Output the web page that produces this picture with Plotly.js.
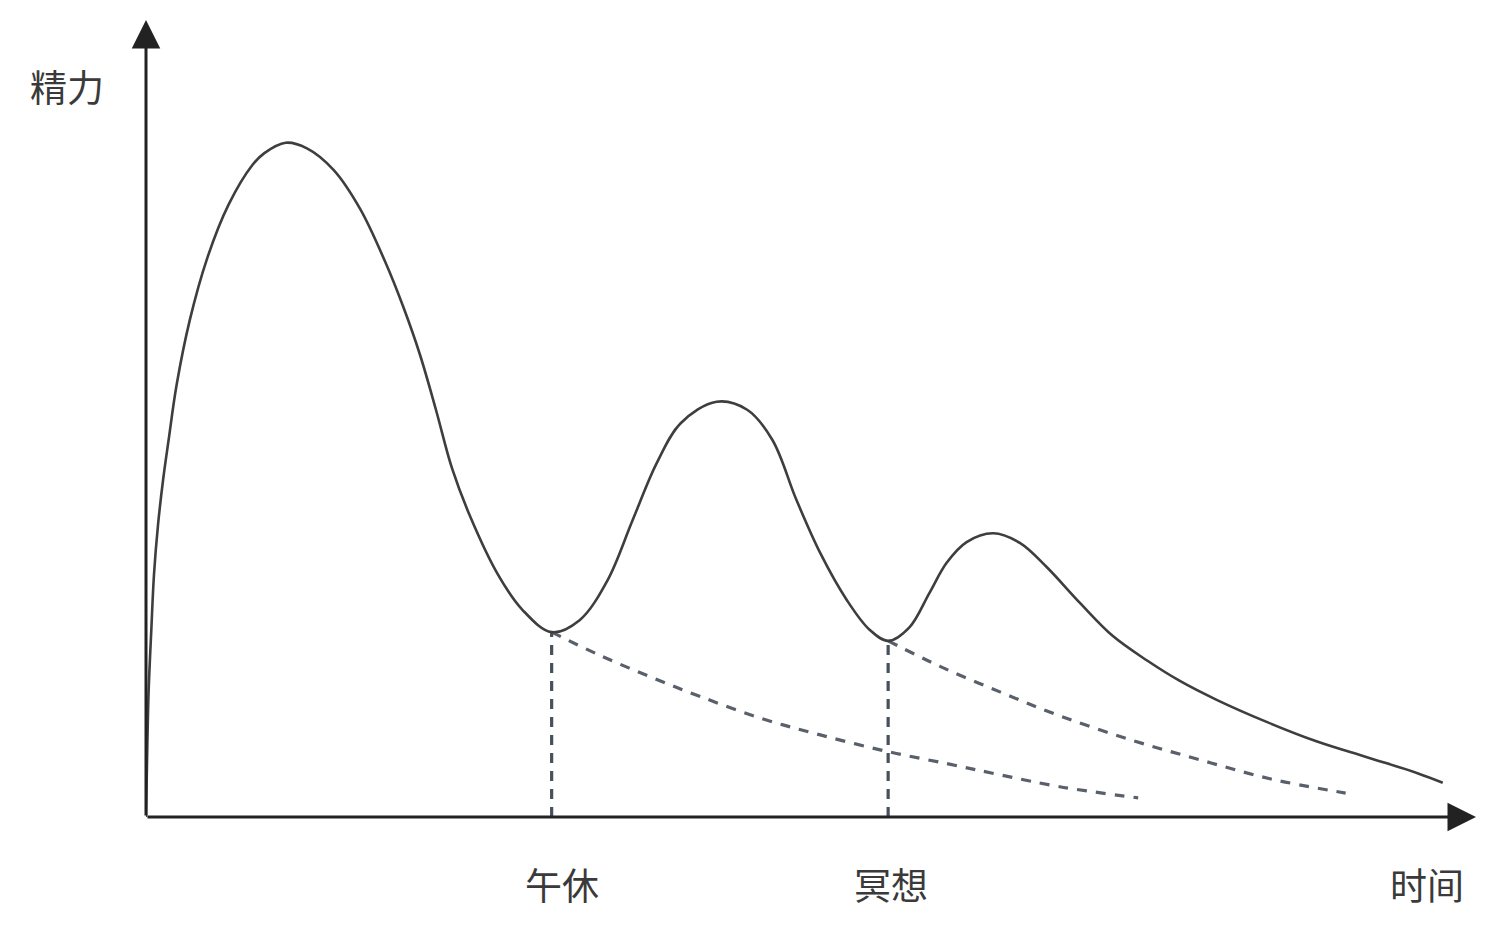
<!DOCTYPE html>
<html>
<head>
<meta charset="utf-8">
<script src="https://cdn.plot.ly/plotly-3.0.1.min.js"></script>
<style>html,body{margin:0;padding:0;background:#fff;}#chart{width:1492px;height:928px;}</style>
</head>
<body>
<div id="chart"></div>
<script>
// Energy curve (时间 vs 精力), arbitrary units 0-100
const energyTime = [0, 0.1, 0.2, 0.4, 0.6, 0.9, 1.3, 1.7, 2.3, 3.3, 4.6, 6.2, 8.0, 8.9, 10.5, 12.1, 14.1, 16.1, 18.0, 19.3, 20.6, 21.8, 23.0, 24.4, 26.4, 28.3, 30.5, 32.6, 34.7, 36.6, 38.4, 40.2, 42.9, 45.2, 47.1, 48.9, 50.7, 52.7, 54.4, 55.8, 57.4, 58.9, 60.2, 61.7, 63.7, 65.7, 67.7, 70.2, 72.7, 75.3, 77.7, 80.5, 84.3, 88.0, 91.8, 95.6, 97.5];
const energyLevel = [0, 9.0, 15.9, 23.5, 30.4, 36.6, 42.5, 47.3, 54.2, 62.4, 70.1, 76.8, 81.8, 83.3, 84.6, 83.9, 81.2, 76.3, 69.6, 64.2, 58.0, 51.1, 43.8, 37.6, 30.6, 26.0, 23.2, 24.7, 29.7, 37.3, 44.4, 49.4, 52.1, 51.1, 47.3, 39.8, 33.1, 27.2, 23.5, 22.1, 23.8, 28.1, 31.9, 34.5, 35.6, 34.4, 31.4, 26.9, 22.7, 19.6, 17.1, 14.7, 11.9, 9.5, 7.5, 5.5, 4.3];

// Decay without the 午休 break
const decay1Time = [30.5, 34.1, 37.9, 41.7, 46.2, 50.7, 55.8, 60.5, 64.2, 68.7, 74.6];
const decay1Level = [23.2, 20.3, 17.6, 15.1, 12.4, 10.3, 8.2, 6.6, 5.3, 3.8, 2.4];

// Decay without the 冥想 break
const decay2Time = [55.8, 59.7, 64.2, 68.7, 74.0, 79.2, 84.5, 90.2];
const decay2Level = [22.1, 18.9, 15.7, 12.7, 9.7, 7.2, 4.8, 3.0];

// Break markers
const breakTimes = [30.5, 55.8];
const breakLevels = [23.2, 22.1];
const breakLabels = ['午休', '冥想'];
const breakLabelPos = [31.3, 56.0];

const axisLabelX = '时间';
const axisLabelY = '精力';

const font = '"Noto Sans CJK SC", "Noto Sans", sans-serif';
const dashColor = '#59606b';

const traces = [
  {x: decay1Time, y: decay1Level, mode: 'lines', line: {color: dashColor, width: 3.2, dash: '10px,9px', shape: 'spline', smoothing: 1.0}, hoverinfo: 'skip'},
  {x: decay2Time, y: decay2Level, mode: 'lines', line: {color: dashColor, width: 3.2, dash: '10px,9px', shape: 'spline', smoothing: 1.0}, hoverinfo: 'skip'}
];
breakTimes.forEach((t, i) => {
  traces.push({x: [t, t], y: [0, breakLevels[i]], mode: 'lines', line: {color: '#4a505a', width: 3.2, dash: '10px,8px'}, hoverinfo: 'skip'});
});
traces.push({x: energyTime, y: energyLevel, mode: 'lines', line: {color: '#3e3e3e', width: 2.6, shape: 'spline', smoothing: 1.0}, hoverinfo: 'skip'});

const annotations = [
  // axes with arrows
  {x: 100, y: 0, ax: 0, ay: 0, xref: 'x', yref: 'y', axref: 'x', ayref: 'y', text: '', showarrow: true, arrowhead: 2, arrowsize: 1.9, arrowwidth: 3, arrowcolor: '#222', standoff: 0, startstandoff: 0},
  {x: 0, y: 100, ax: 0, ay: 0, xref: 'x', yref: 'y', axref: 'x', ayref: 'y', text: '', showarrow: true, arrowhead: 2, arrowsize: 1.9, arrowwidth: 3, arrowcolor: '#222', standoff: 0, startstandoff: 0},
  {x: -0.0594, y: 0.917, xref: 'paper', yref: 'paper', text: axisLabelY, showarrow: false, xanchor: 'center', yanchor: 'middle', font: {family: font, size: 37, color: '#3a3a3a'}},
  {x: 0.963, y: -0.0841, xref: 'paper', yref: 'paper', text: axisLabelX, showarrow: false, xanchor: 'center', yanchor: 'middle', font: {family: font, size: 37, color: '#3a3a3a'}}
];
breakLabels.forEach((lab, i) => {
  annotations.push({x: breakLabelPos[i], y: -0.0841, xref: 'x', yref: 'paper', text: lab, showarrow: false, xanchor: 'center', yanchor: 'middle', font: {family: font, size: 37, color: '#3a3a3a'}});
});

const layout = {
  width: 1492, height: 928,
  margin: {l: 146, r: 16, t: 20, b: 111},
  paper_bgcolor: '#ffffff', plot_bgcolor: '#ffffff',
  showlegend: false,
  xaxis: {range: [0, 100], visible: false, fixedrange: true},
  yaxis: {range: [0, 100], visible: false, fixedrange: true},
  annotations: annotations
};

Plotly.newPlot('chart', traces, layout, {staticPlot: true, displayModeBar: false});
</script>
</body>
</html>
